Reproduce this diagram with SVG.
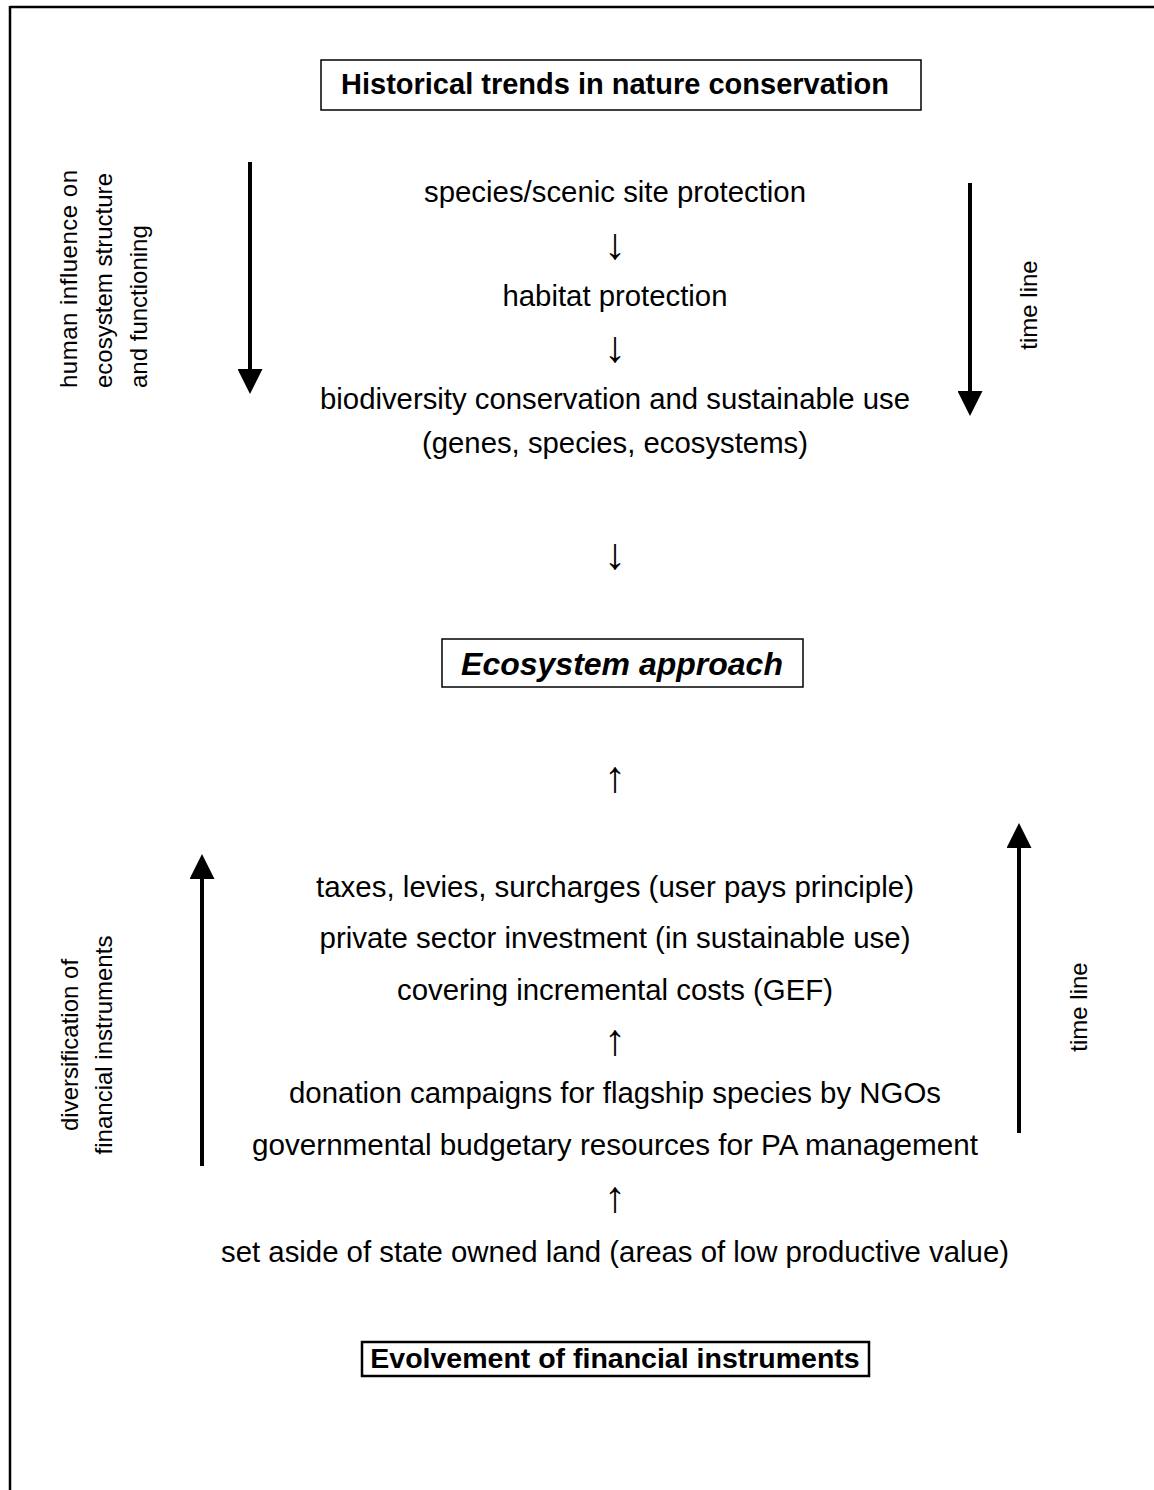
<svg xmlns="http://www.w3.org/2000/svg" width="1154" height="1490" viewBox="0 0 1154 1490">
<style>
.t{font-family:"Liberation Sans",Arial,sans-serif;font-size:29.5px;fill:#000;text-anchor:middle}
.ar{font-family:"Liberation Sans",Arial,sans-serif;font-size:44px;fill:#000;text-anchor:middle}
.r{font-family:"Liberation Sans",Arial,sans-serif;font-size:24px;fill:#000}
.hd{font-family:"Liberation Sans",Arial,sans-serif;font-weight:bold;fill:#000;text-anchor:middle}
.box{fill:#fff;stroke:#000}
.conn{stroke:#000;stroke-width:4;fill:none}
</style>
<defs>
<marker id="head" viewBox="0 0 25 25" markerWidth="25" markerHeight="25" refX="0" refY="12.5" orient="auto" markerUnits="userSpaceOnUse">
<path d="M0,0 L25,12.5 L0,25 z" fill="#000"/>
</marker>
</defs>
<rect width="1154" height="1490" fill="#fff"/>
<g id="frame">
<line x1="10" y1="7" x2="1154" y2="7" stroke="#000" stroke-width="2.5"/>
<line x1="10" y1="6" x2="10" y2="1490" stroke="#000" stroke-width="2.5"/>
</g>
<g id="connectors">
<line class="conn" x1="250" y1="162" x2="250" y2="369" marker-end="url(#head)"/>
<line class="conn" x1="970" y1="183" x2="970" y2="391" marker-end="url(#head)"/>
<line class="conn" x1="202" y1="1166" x2="202" y2="879" marker-end="url(#head)"/>
<line class="conn" x1="1019" y1="1133" x2="1019" y2="848" marker-end="url(#head)"/>
</g>
<g id="title-top">
<rect class="box" x="321" y="60" width="600" height="50" stroke-width="1.5"/>
<text class="hd" x="615" y="94" font-size="29">Historical trends in nature conservation</text>
</g>
<g id="label-human-influence">
<text class="r" transform="translate(77,388) rotate(-90)" textLength="218" lengthAdjust="spacing">human influence on</text>
<text class="r" transform="translate(112,388) rotate(-90)" textLength="215" lengthAdjust="spacing">ecosystem structure</text>
<text class="r" transform="translate(147,388) rotate(-90)">and functioning</text>
</g>
<g id="label-timeline-top">
<text class="r" transform="translate(1037,305) rotate(-90)" text-anchor="middle">time line</text>
</g>
<g id="trend-species">
<text class="t" x="615" y="202" textLength="382" lengthAdjust="spacingAndGlyphs">species/scenic site protection</text>
</g>
<text class="ar" x="615" y="259">↓</text>
<g id="trend-habitat">
<text class="t" x="615" y="306" textLength="225" lengthAdjust="spacingAndGlyphs">habitat protection</text>
</g>
<text class="ar" x="615" y="362">↓</text>
<g id="trend-biodiversity">
<text class="t" x="615" y="409" textLength="590" lengthAdjust="spacingAndGlyphs">biodiversity conservation and sustainable use</text>
<text class="t" x="615" y="453" textLength="386" lengthAdjust="spacingAndGlyphs">(genes, species, ecosystems)</text>
</g>
<text class="ar" x="615" y="569">↓</text>
<g id="ecosystem-approach">
<rect class="box" x="442" y="639" width="361" height="48" stroke-width="1.5"/>
<text class="hd" x="622" y="675" font-size="32" font-style="italic">Ecosystem approach</text>
</g>
<text class="ar" x="615" y="792">↑</text>
<g id="fin-advanced">
<text class="t" x="615" y="897" textLength="598" lengthAdjust="spacingAndGlyphs">taxes, levies, surcharges (user pays principle)</text>
<text class="t" x="615" y="948" textLength="591" lengthAdjust="spacingAndGlyphs">private sector investment (in sustainable use)</text>
<text class="t" x="615" y="1000" textLength="436" lengthAdjust="spacingAndGlyphs">covering incremental costs (GEF)</text>
</g>
<text class="ar" x="615" y="1055">↑</text>
<g id="fin-middle">
<text class="t" x="615" y="1103" textLength="652" lengthAdjust="spacingAndGlyphs">donation campaigns for flagship species by NGOs</text>
<text class="t" x="615" y="1155" textLength="726" lengthAdjust="spacingAndGlyphs">governmental budgetary resources for PA management</text>
</g>
<text class="ar" x="615" y="1212">↑</text>
<g id="fin-base">
<text class="t" x="615" y="1262" textLength="788" lengthAdjust="spacingAndGlyphs">set aside of state owned land (areas of low productive value)</text>
</g>
<g id="label-diversification">
<text class="r" transform="translate(78,1045) rotate(-90)" text-anchor="middle">diversification of</text>
<text class="r" transform="translate(112,1045) rotate(-90)" text-anchor="middle">financial instruments</text>
</g>
<g id="label-timeline-bottom">
<text class="r" transform="translate(1087,1007) rotate(-90)" text-anchor="middle">time line</text>
</g>
<g id="title-bottom">
<rect class="box" x="362" y="1342" width="507" height="34" stroke-width="2.5"/>
<text class="hd" x="615" y="1368" font-size="28.5">Evolvement of financial instruments</text>
</g>
</svg>
